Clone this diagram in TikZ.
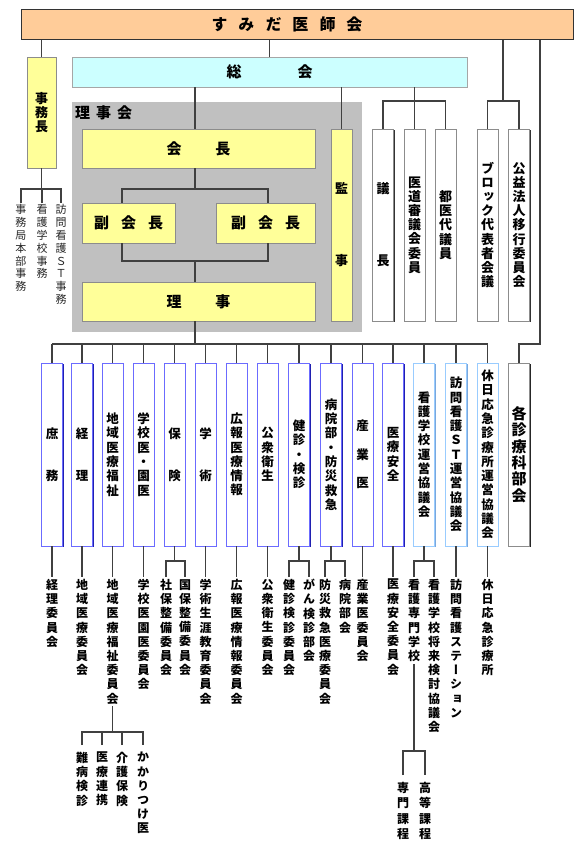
\documentclass[tikz,border=0pt]{standalone}
\usepackage{fontspec}
\setmainfont{Noto Sans CJK JP}[RawFeature=+vert]
\usetikzlibrary{shadows}
\definecolor{peach}{HTML}{FFCC99}
\definecolor{cyanbox}{HTML}{CCFFFF}
\definecolor{yel}{HTML}{FFFF99}
\definecolor{graybg}{HTML}{C0C0C0}
\definecolor{ln}{HTML}{404040}
\definecolor{deptblue}{HTML}{6B6BFF}
\definecolor{deptdark}{HTML}{2020B0}
\definecolor{lblue}{HTML}{99CCFF}
\definecolor{lbluedark}{HTML}{7AA8DD}
\def\vgobble#1{}
\newcommand\vstk[1]{\vstkB#1\relax}
\def\vstkB#1{#1\vstkC}
\def\vstkC#1{\ifx\relax#1\expandafter\vgobble\else\expandafter\vstkD\fi{#1}}
\def\vstkD#1{\\#1\vstkC}
\newcommand\spc[1]{\hspace{#1}}
\tikzset{
 conn/.style={draw=ln, line width=1.1pt},
 shad/.style={drop shadow={shadow xshift=1.1pt, shadow yshift=-1.1pt, fill=#1, opacity=1}},
 ybox/.style={draw=black!45, line width=0.6pt, fill=yel, shad=black!85, inner sep=0pt, font=\bfseries\fontsize{15}{17}\selectfont},
 tallw/.style={draw=black!45, line width=0.6pt, fill=white, shad=black!80, inner sep=0pt, align=center, minimum width=21pt, minimum height=192pt, font=\bfseries\fontsize{13}{14.2}\selectfont},
 dept/.style={draw=deptblue, line width=0.6pt, fill=white, shad=deptdark, inner sep=0pt, align=center, minimum width=21pt, minimum height=183pt, font=\bfseries\fontsize{12.5}{14.3}\selectfont},
 deptl/.style={dept, draw=lblue, shad=lbluedark},
 deptg/.style={dept, draw=black!45, shad=black!85},
 comm/.style={font=\bfseries\fontsize{12}{14.2}\selectfont, align=center, anchor=north, inner xsep=0pt, inner ysep=2pt},
 subc/.style={comm, inner ysep=7pt},
 jim/.style={font=\fontsize{11}{12.8}\selectfont, text=black!85, align=center, anchor=north, inner xsep=0pt, inner ysep=1.5pt}
}
\begin{document}
\begin{tikzpicture}[x=1pt,y=-1pt]
\useasboundingbox (0,0) rectangle (585,860);
\fill[graybg] (72,102) rectangle (362,332);

% top level
\node[draw=black!80, line width=0.8pt, fill=peach, minimum width=552pt, minimum height=30pt, inner sep=0pt] (top) at (297,24.3) {};
\node[font=\bfseries\fontsize{16}{18}\selectfont, inner sep=0pt] (toplbl) at (287,24.3) {す\spc{11pt}み\spc{11pt}だ\spc{11pt}医\spc{11pt}師\spc{11pt}会};
\node[draw=black!35, line width=0.6pt, fill=cyanbox, shad=black!80, minimum width=395pt, minimum height=30pt, inner sep=0pt, font=\bfseries\fontsize{15}{17}\selectfont] (soukai) at (269.5,72) {総\spc{56pt}会};
\node[ybox, minimum width=29pt, minimum height=111pt, align=center, font=\bfseries\fontsize{13}{14}\selectfont] (jimu) at (41.5,112.5) {\vstk{事務長}};

% board
\node[font=\bfseries\fontsize{15}{17}\selectfont, anchor=west, inner sep=0pt] (rijikai) at (75,113) {理\spc{6pt}事\spc{6pt}会};
\node[ybox, minimum width=233pt, minimum height=39pt] (kaicho) at (198.5,148.5) {会\spc{34pt}長};
\node[ybox, minimum width=93pt, minimum height=40pt] (fuku1) at (128.5,223) {副\spc{12pt}会\spc{12pt}長};
\node[ybox, minimum width=99pt, minimum height=40pt] (fuku2) at (265.5,223) {副\spc{12pt}会\spc{12pt}長};
\node[ybox, minimum width=233pt, minimum height=39pt] (riji) at (198.5,301.5) {理\spc{34pt}事};
\node[ybox, minimum width=21pt, minimum height=192pt, align=center, font=\bfseries\fontsize{13}{14.2}\selectfont] (kanji) at (341.5,225) {監\\[57.8pt]事};

% tall white boxes
\node[tallw] (gicho) at (383,225) {議\\[57.8pt]長};
\node[tallw] (idou) at (414.5,225) {\vstk{医道審議会委員}};
\node[tallw] (toi) at (445.5,225) {\vstk{都医代議員}};
\node[tallw] (block) at (487.5,225) {\vstk{ブロック代表者会議}};
\node[tallw] (koueki) at (519,225) {\vstk{公益法人移行委員会}};

% office items
\node[jim] (j1) at (21,203) {\vstk{事務局本部事務}};
\node[jim] (j2) at (42,203) {\vstk{看護学校事務}};
\node[jim] (j3) at (61,203) {\vstk{訪問看護ＳＴ事務}};

% departments
\node[dept] (d1) at (52,454.5) {庶\\[27.7pt]務};
\node[dept] (d2) at (82,454.5) {経\\[27.7pt]理};
\node[dept] (d3) at (112.5,454.5) {\vstk{地域医療福祉}};
\node[dept] (d4) at (143.5,454.5) {\vstk{学校医・園医}};
\node[dept] (d5) at (174.5,454.5) {保\\[27.7pt]険};
\node[dept] (d6) at (205.5,454.5) {学\\[27.7pt]術};
\node[dept] (d7) at (236.5,454.5) {\vstk{広報医療情報}};
\node[dept] (d8) at (267.5,454.5) {\vstk{公衆衛生}};
\node[dept] (d9) at (299,454.5) {\vstk{健診・検診}};
\node[dept] (d10) at (331,454.5) {\vstk{病院部・防災救急}};
\node[dept] (d11) at (362.5,454.5) {産\\[14.2pt]業\\[14.2pt]医};
\node[dept] (d12) at (393,454.5) {\vstk{医療安全}};
\node[deptl] (d13) at (424,454.5) {\vstk{看護学校運営協議会}};
\node[deptl] (d14) at (456,454.5) {\vstk{訪問看護ＳＴ運営協議会}};
\node[deptl] (d15) at (487.5,454.5) {\vstk{休日応急診療所運営協議会}};
\node[deptg, font=\bfseries\fontsize{15}{16.3}\selectfont] (d16) at (519,454.5) {\vstk{各診療科部会}};

% committees
\node[comm] (c1) at (52,577) {\vstk{経理委員会}};
\node[comm] (c2) at (82,577) {\vstk{地域医療委員会}};
\node[comm] (c3) at (112.5,577) {\vstk{地域医療福祉委員会}};
\node[comm] (c4) at (143.5,577) {\vstk{学校医園医委員会}};
\node[comm] (c5a) at (166,577) {\vstk{社保整備委員会}};
\node[comm] (c5b) at (185,577) {\vstk{国保整備委員会}};
\node[comm] (c6) at (205.5,577) {\vstk{学術生涯教育委員会}};
\node[comm] (c7) at (236.5,577) {\vstk{広報医療情報委員会}};
\node[comm] (c8) at (267.5,577) {\vstk{公衆衛生委員会}};
\node[comm] (c9a) at (289,577) {\vstk{健診検診委員会}};
\node[comm] (c9b) at (309,577) {\vstk{がん検診部会}};
\node[comm] (c10a) at (325,577) {\vstk{防災救急医療委員会}};
\node[comm] (c10b) at (345,577) {\vstk{病院部会}};
\node[comm] (c11) at (362.5,577) {\vstk{産業医委員会}};
\node[comm] (c12) at (393,577) {\vstk{医療安全委員会}};
\node[comm] (c13a) at (414,577) {\vstk{看護専門学校}};
\node[comm] (c13b) at (434,577) {\vstk{看護学校将来検討協議会}};
\node[comm] (c14) at (456,577) {\vstk{訪問看護ステーション}};
\node[comm] (c15) at (487.5,577) {\vstk{休日応急診療所}};

% sub committees
\node[subc] (s1) at (82,745) {\vstk{難病検診}};
\node[subc] (s2) at (102,745) {\vstk{医療連携}};
\node[subc] (s3) at (122,745) {\vstk{介護保険}};
\node[subc] (s4) at (143,745) {\vstk{かかりつけ医}};
\node[subc, font=\bfseries\fontsize{12}{15.5}\selectfont] (t1) at (403,775) {\vstk{専門課程}};
\node[subc, font=\bfseries\fontsize{12}{15.5}\selectfont] (t2) at (425,775) {\vstk{高等課程}};

% connectors: top level
\coordinate (bk) at (503,101);
\coordinate (rr) at (540,344);
\draw[conn] (top.south -| jimu.north) -- (jimu.north);
\draw[conn] (top.south -| soukai.north) -- (soukai.north);
\draw[conn] (top.south -| bk) -- (bk);
\draw[conn] (block.north) |- (bk) -| (koueki.north);
\draw[conn] (top.south -| rr) -- (rr) -| (d16.north);

% from general assembly
\coordinate (cx) at (195,0);
\coordinate (gk) at (414.5,101);
\draw[conn] (soukai.south -| cx) -- (kaicho.north -| cx);
\draw[conn] (soukai.south -| kanji.north) -- (kanji.north);
\draw[conn] (soukai.south -| gk) -- (gk);
\draw[conn] (gicho.north) |- (gk) -| (toi.north);
\draw[conn] (idou.north) -- (gk);

% office
\coordinate (jb) at (41.5,189);
\draw[conn] (jimu.south) -- (jb);
\draw[conn] (j1.north) |- (jb) -| (j3.north);
\draw[conn] (j2.north) -- (j2.north |- jb);

% board
\coordinate (kb) at (195,189);
\coordinate (f1) at (122,0);
\coordinate (f2) at (268,0);
\coordinate (fb) at (195,261);
\draw[conn] (kaicho.south -| kb) -- (kb);
\draw[conn] (fuku1.north -| f1) |- (kb) -| (fuku2.north -| f2);
\draw[conn] (fuku1.south -| f1) |- (fb) -| (fuku2.south -| f2);
\draw[conn] (fb) -- (riji.north -| fb);

% bus to departments
\coordinate (bus) at (195,344);
\draw[conn] (riji.south -| bus) -- (bus);
\draw[conn] (d1.north |- bus) -- (d15.north |- bus);
\foreach \i in {1,...,15} \draw[conn] (d\i.north) -- (d\i.north |- bus);

% departments to committees
\foreach \i in {1,2,3,4,6,7,8,11,12,14,15} \draw[conn] (d\i.south) -- (d\i.south |- c\i.north);
\coordinate (lv) at (0,561);
\draw[conn] (d5.south) -- (d5.south |- lv);
\draw[conn] (c5a.north) |- (d5.south |- lv) -| (c5b.north);
\draw[conn] (d9.south) -- (d9.south |- lv);
\draw[conn] (c9a.north) |- (d9.south |- lv) -| (c9b.north);
\draw[conn] (d10.south) -- (d10.south |- lv);
\draw[conn] (c10a.north) |- (d10.south |- lv) -| (c10b.north);
\draw[conn] (d13.south) -- (d13.south |- lv);
\draw[conn] (c13a.north) |- (d13.south |- lv) -| (c13b.north);

% sub brackets
\coordinate (sb) at (112.5,732);
\draw[conn] (c3.south) -- (sb);
\draw[conn] (s1.north) |- (sb) -| (s4.north);
\draw[conn] (s2.north) -- (s2.north |- sb);
\draw[conn] (s3.north) -- (s3.north |- sb);
\coordinate (tb) at (414,751);
\draw[conn] (c13a.south) -- (tb);
\draw[conn] (t1.north) |- (tb) -| (t2.north);
\end{tikzpicture}
\end{document}
